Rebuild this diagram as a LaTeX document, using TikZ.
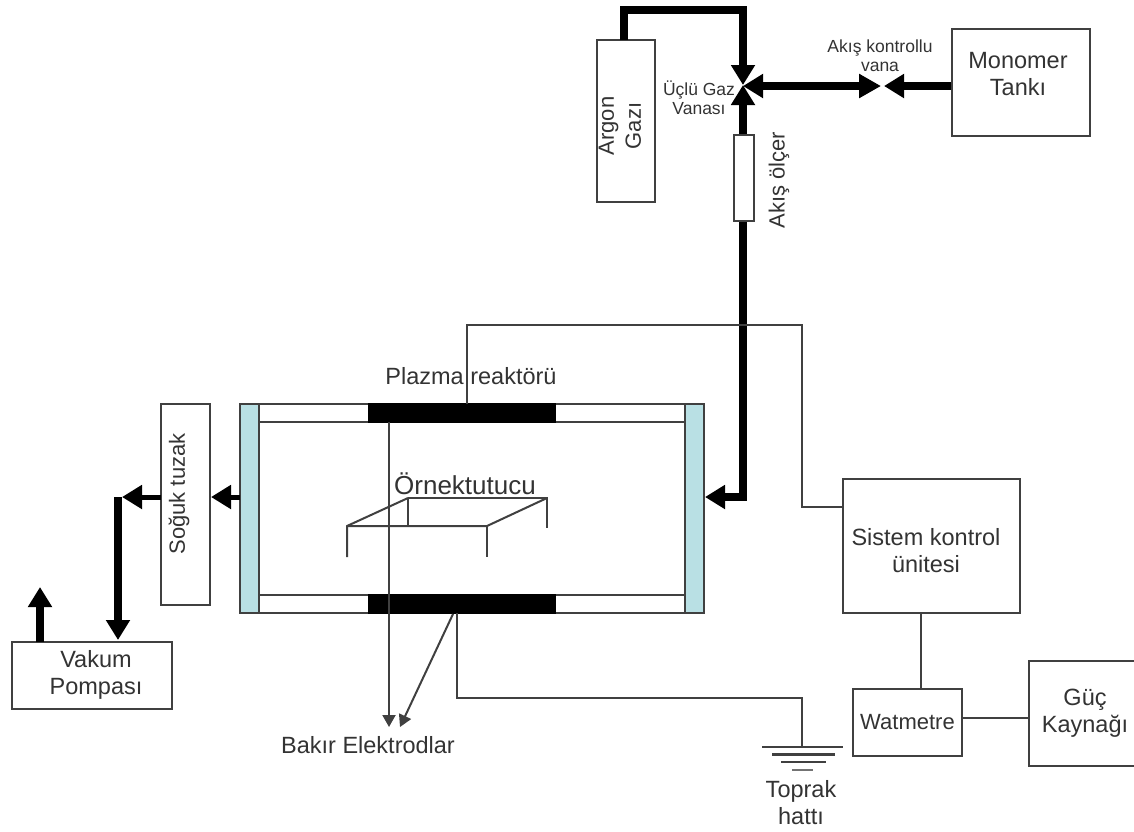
\documentclass[tikz,border=0pt]{standalone}
\usepackage{fontspec}
\setmainfont{Liberation Sans}
\usetikzlibrary{arrows.meta}
\tikzset{
  boxnode/.style={draw=\plzLineColor, line width=\plzLineWidth, fill=white, inner sep=0pt, align=center, text=\plzTextColor, font=\plzBigFont},
  labelnode/.style={inner sep=0pt, align=center, text=\plzTextColor, font=\plzBigFont},
  sidelabel/.style={labelnode, rotate=90, font=\plzMidFont},
  smalllabel/.style={labelnode, font=\plzSmallFont},
  electrode/.style={boxnode, minimum width=186pt, minimum height=18pt, fill=black, draw=black},
  sidebar/.style={boxnode, minimum width=19pt, minimum height=209pt, fill={rgb,1:red,0.725;green,0.878;blue,0.894}},
  pipe/.style={draw=black, line width=7.5pt, line join=miter},
  pipearrow/.style={pipe, -{Triangle[length=20pt,width=23pt]}},
  wire/.style={draw=\plzLineColor, line width=\plzLineWidth, line join=miter},
  wirearrow/.style={wire, -{Triangle[length=12pt,width=13pt]}},
}
\begin{document}
\begin{tikzpicture}[x=1pt, y=-1pt]
% Reactor sketch, all coordinates in reference pixels
\providecommand{\plzLineColor}{black!75}
\providecommand{\plzTextColor}{black!80}
\providecommand{\plzLineWidth}{2pt}
\providecommand{\plzBigFont}{\fontsize{23.5}{27}\selectfont}
\providecommand{\plzMidFont}{\fontsize{22}{27}\selectfont}
\providecommand{\plzSmallFont}{\fontsize{17.5}{19}\selectfont}
\useasboundingbox (0,0) rectangle (1134,831);
% Reactor body
\node[boxnode, minimum width=426pt, minimum height=209pt] (reactor) at (472,508.5) {};
\coordinate (topwallA) at (259,422);
\coordinate (topwallB) at (685,422);
\coordinate (bottomwallA) at (259,595);
\coordinate (bottomwallB) at (685,595);
\draw[wire] (topwallA) -- (topwallB);
\draw[wire] (bottomwallA) -- (bottomwallB);
\node[sidebar] (leftbar) at (249.5,508.5) {};
\node[sidebar] (rightbar) at (694.5,508.5) {};
\node[electrode] (topelectrode) at (462,413) {};
\node[electrode] (bottomelectrode) at (462,604) {};
% Boxes
\node[boxnode, minimum width=58pt, minimum height=162pt] (argon) at (626,121) {};
\node[boxnode, minimum width=20pt, minimum height=86pt] (flowmeter) at (744,178) {};
\node[boxnode, minimum width=138pt, minimum height=107pt] (monomer) at (1021,82.5) {};
\node[boxnode, minimum width=49pt, minimum height=201pt] (trap) at (185.5,504.5) {};
\node[boxnode, minimum width=160pt, minimum height=67pt] (pump) at (92,675.5) {};
\node[boxnode, minimum width=177pt, minimum height=134pt] (control) at (931.5,546) {};
\node[boxnode, minimum width=109pt, minimum height=67pt, font=\plzMidFont] (wattmeter) at (907.5,722.5) {Watmetre};
\node[boxnode, minimum width=112pt, minimum height=105pt] (power) at (1085,713.5) {Güç\\Kaynağı};
% Labels
\node[labelnode] (monomerlabel) at (1018,74) {Monomer\\Tankı};
\node[labelnode] (pumplabel) at (96,675) {Vakum\\Pompası};
\node[labelnode] (controllabel) at (926,551) {Sistem kontrol\\ünitesi};
\node[labelnode] (reactorlabel) at (471,376) {Plazma reaktörü};
\node[labelnode, font=\fontsize{26}{27}\selectfont] (holderlabel) at (465,484) {Örnektutucu};
\node[labelnode] (electrodelabel) at (368,745) {Bakır Elektrodlar};
\node[labelnode] (groundlabel) at (801,803) {Toprak\\hattı};
\node[sidelabel] (argonlabel) at (620,126) {Argon\\Gazı};
\node[sidelabel] (flowlabel) at (779,180) {Akış ölçer};
\node[sidelabel] (traplabel) at (179,494) {Soğuk tuzak};
\node[smalllabel] (valvelabel) at (699,98) {Üçlü Gaz\\Vanası};
\node[smalllabel] (flowvalvelabel) at (880,56) {Akış kontrollu\\vana};
% Junctions
\coordinate (valve) at (743,85);
\coordinate (flowvalve) at (881,86);
\coordinate (monomertip) at (884,86);
\coordinate (argonout) at (624,40);
\coordinate (argonbend) at (624,10);
\coordinate (valvetop) at (743,10);
\coordinate (flowbend) at (743,497);
\coordinate (reactorin) at (705,497);
\coordinate (trapin) at (211,497);
\coordinate (reactorout) at (240,497);
\coordinate (trapout) at (161,497);
\coordinate (trapentry) at (122,497);
\coordinate (pumpbend) at (118,497);
\coordinate (pumpin) at (118,640);
\coordinate (pumpout) at (40,642);
\coordinate (exhaust) at (40,587);
% Gas lines
\draw[pipearrow] (argonout) -- (argonbend) -- (valvetop) -- (valve);
\draw[pipearrow] (flowmeter.north -| valve) -- (valve);
\draw[pipe, {Triangle[length=20pt,width=23pt]}-{Triangle[length=22pt,width=23pt]}] (valve |- flowvalve) -- (flowvalve);
\draw[pipearrow] (monomer.west |- monomertip) -- (monomertip);
\draw[pipearrow] (flowmeter.south -| valve) -- (flowbend) -- (reactorin);
\draw[pipearrow, line width=5pt] (reactorout) -- (trapin);
\draw[pipearrow, line width=5pt] (trapout) -- (trapentry);
\draw[pipearrow, line width=8pt] (pumpbend) -- (pumpin);
\draw[pipearrow, line width=8pt] (pumpout) -- (exhaust);
% Sample holder
\coordinate (holderA) at (347,526);
\coordinate (holderB) at (487,526);
\coordinate (holderC) at (408,498);
\coordinate (holderD) at (547,498);
\draw[wire] (holderC) -- (holderD) -- ++(0,30);
\draw[wire] (holderC) -- (holderC |- holderA);
\draw[wire] (holderA) -- (holderB) -- (holderD);
\draw[wire] (holderC) -- (holderA) -- ++(0,31);
\draw[wire] (holderB) -- ++(0,31);
% Electrode leads
\coordinate (leadtop) at (389,422);
\coordinate (leadtip) at (389,727);
\coordinate (leadstart) at (453,614);
\coordinate (leadtipB) at (400,727);
\draw[wirearrow] (leadtop) -- (leadtip);
\draw[wirearrow] (leadstart) -- (leadtipB);
% Control wiring
\coordinate (topfeed) at (467,404);
\coordinate (feedbend) at (467,325);
\coordinate (controlbend) at (802,325);
\coordinate (controlentry) at (802,507);
\draw[wire] (topfeed) -- (feedbend) -- (controlbend) -- (controlentry) -- (controlentry -| control.west);
\coordinate (wattentry) at (921,613);
\draw[wire] (wattentry) -- (wattentry |- wattmeter.north);
\coordinate (powerline) at (962,718);
\draw[wire] (powerline) -- (powerline -| power.west);
% Ground line
\coordinate (groundfeed) at (457,613);
\coordinate (groundbend) at (457,698);
\coordinate (groundtop) at (802,698);
\coordinate (groundpoint) at (802,747);
\draw[wire] (groundfeed) -- (groundbend) -- (groundtop) -- (groundpoint);
\draw[wire] (762,747) -- (843,747);
\draw[wire, line width=3pt] (772,754) -- (835,754);
\draw[wire] (781,762) -- (826,762);
\draw[wire, draw=black!55] (792,770) -- (813,770);
\end{tikzpicture}
\end{document}
